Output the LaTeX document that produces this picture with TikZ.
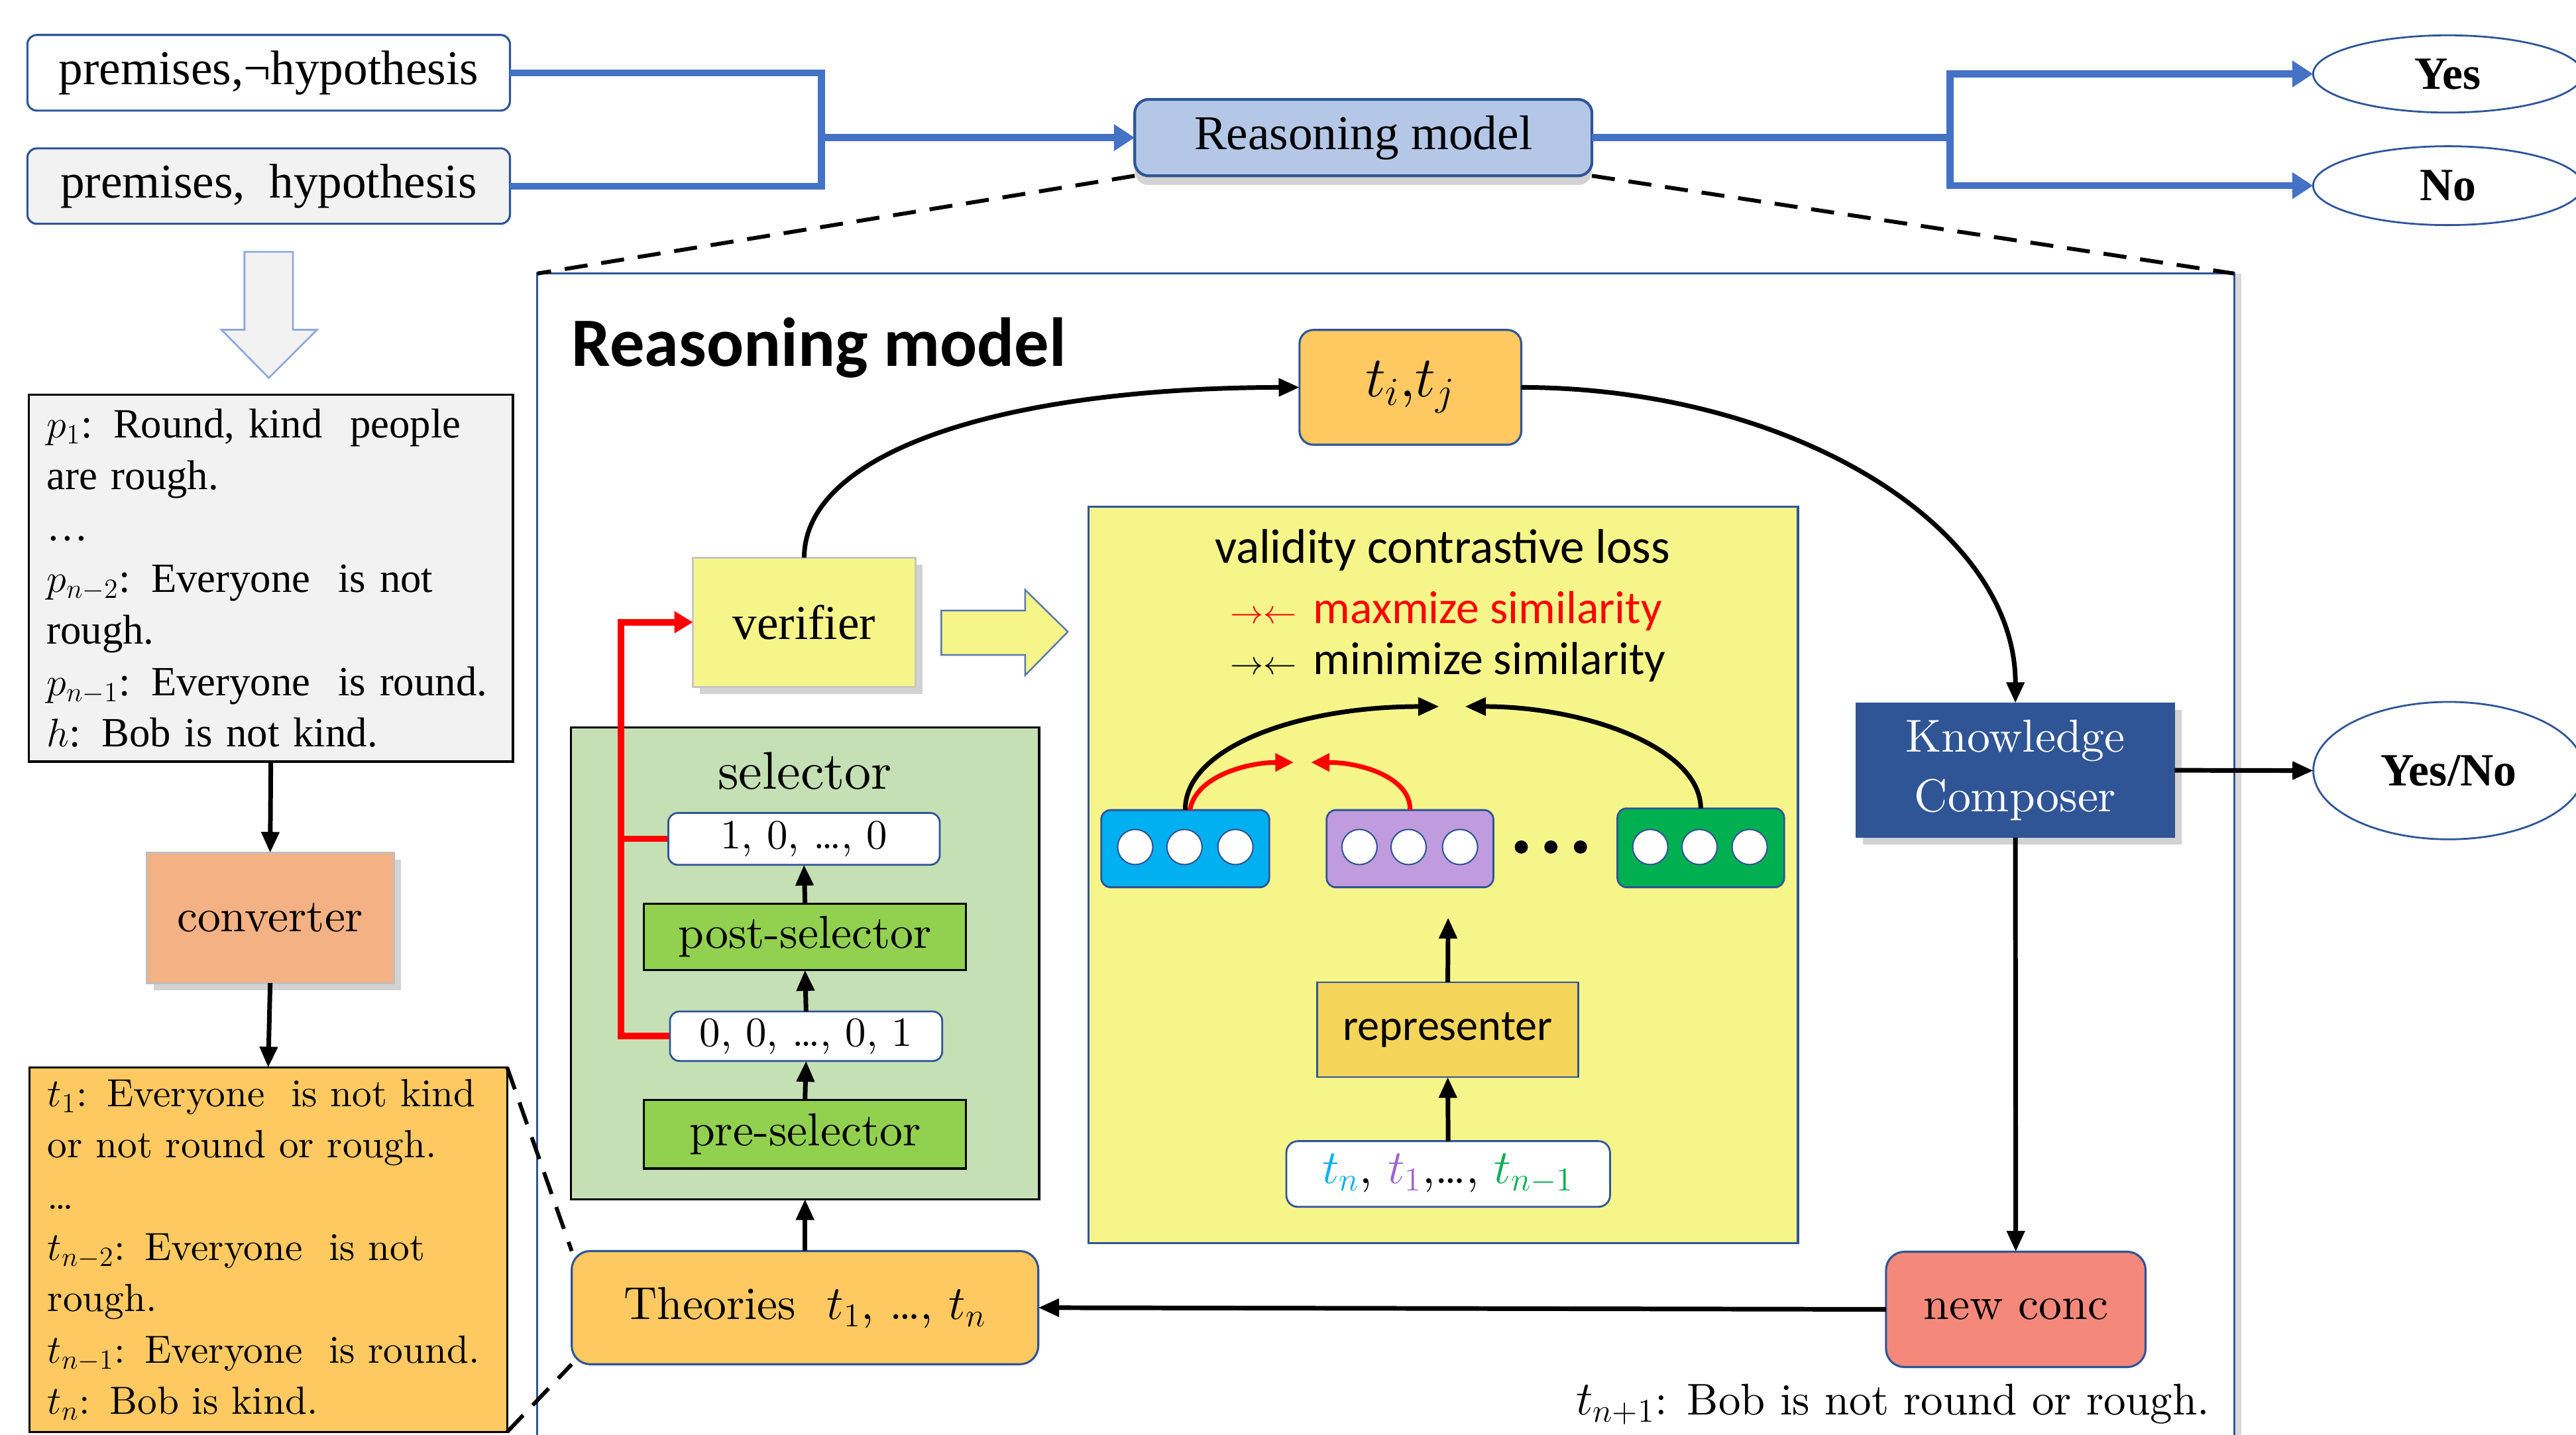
\documentclass[tikz,border=0pt]{standalone}
\usepackage{fontspec}
\setmainfont{lmroman10-regular.otf}[BoldFont=lmroman10-bold.otf, ItalicFont=lmroman10-italic.otf]
\newfontfamily\tnr{Liberation Serif}
\newfontfamily\calf{Carlito}
\usetikzlibrary{arrows.meta,shadows,shapes.geometric}
\definecolor{dblue}{HTML}{2F5597}
\definecolor{mblue}{HTML}{4472C4}
\definecolor{orng}{HTML}{FFC961}
\definecolor{salm}{HTML}{F4897B}
\definecolor{convc}{HTML}{F4B183}
\definecolor{yel}{HTML}{F6F58A}
\definecolor{goldc}{HTML}{F5D45A}
\definecolor{lgreen}{HTML}{C5E0B4}
\definecolor{mgreen}{HTML}{92D050}
\definecolor{lgray}{HTML}{F2F2F2}
\definecolor{rmblue}{HTML}{B4C7E7}
\definecolor{vblue}{HTML}{00B0F0}
\definecolor{vpurp}{HTML}{C09BDE}
\definecolor{vgreen}{HTML}{00B050}
\definecolor{tpurp}{HTML}{A064D2}
\definecolor{harrowc}{HTML}{8FAADC}
\begin{document}
\begin{tikzpicture}[x=0.025cm,y=-0.025cm,
  every node/.style={inner sep=0pt, outer sep=0pt},
  bb/.style n args={4}{at={({(#1+#3)/2},{(#2+#4)/2})}, minimum width={(#3-#1)*0.025cm}, minimum height={(#4-#2)*0.025cm}},
  rbox/.style={draw=dblue, line width=0.9pt, rounded corners=4pt},
  shad/.style={drop shadow={shadow xshift=3pt, shadow yshift=-3pt, opacity=0.35}},
  arr/.style={line width=2pt, -{Triangle[length=9pt,width=7.5pt]}},
  carr/.style={line width=2pt, -{Triangle[length=9pt,width=7.5pt]}},
  rarr/.style={line width=2pt, red, -{Triangle[length=8pt,width=7.5pt]}},
  bline/.style={draw=mblue, line width=3pt},
  btip/.style={-{Triangle[length=9pt,width=11pt]}},
  dsh/.style={line width=1.7pt, dash pattern=on 10pt off 6pt},
  redl/.style={draw=red, line width=2.8pt},
  ftnr/.style={font=\tnr\fontsize{21}{25}\selectfont},
  fcm/.style={font=\fontsize{20}{24}\selectfont}
]
\useasboundingbox (0,0) rectangle (1568,873);

% big reasoning model frame
\node[draw=dblue, line width=0.8pt, fill=white,
      drop shadow={shadow xshift=3pt, shadow yshift=0pt, opacity=0.3},
      bb={327}{166.5}{1360}{900}] (big) {};
\node[anchor=base west, font=\calf\bfseries\fontsize{30}{36}\selectfont] (title) at (348,223) {Reasoning model};

% top row
\node[rbox, fill=white, bb={16.7}{21.3}{310.4}{67.3}, ftnr] (pm1) {premises,¬hypothesis};
\node[rbox, fill=lgray, bb={16.7}{90.3}{310.4}{136.2}, ftnr] (pm2) {premises,\ \ hypothesis};
\node[rbox, rounded corners=6pt, fill=rmblue, line width=1.2pt,
      drop shadow={shadow xshift=0pt, shadow yshift=-4pt, opacity=0.35},
      bb={690.7}{60.5}{969}{107}, ftnr] (rm) {Reasoning model};
\node[ellipse, draw=dblue, line width=0.8pt, fill=white, minimum width=4.1cm, minimum height=1.175cm,
      font=\tnr\bfseries\fontsize{20}{24}\selectfont] (yes) at (1490,45) {Yes};
\node[ellipse, draw=dblue, line width=0.8pt, fill=white, minimum width=4.1cm, minimum height=1.2cm,
      font=\tnr\bfseries\fontsize{20}{24}\selectfont] (no) at (1490,113) {No};

\coordinate (jl) at (500,83.75);
\coordinate (jr) at (1187,83.75);
\draw[bline] (pm1.east) -| (jl);
\draw[bline] (pm2.east) -| (jl);
\draw[bline, btip] (jl) -- (rm.west);
\draw[bline] (rm.east) -- (jr);
\draw[bline, btip] (jr) |- (yes.west);
\draw[bline, btip] (jr) |- (no.west);

\draw[dsh] (rm.south west) -- (big.north west);
\draw[dsh] (rm.south east) -- (big.north east);

% left column
\draw[draw=harrowc, fill=lgray, line width=0.8pt] (148.8,153.3) -- (178.3,153.3) -- (178.3,200.7) -- (193,200.7)
  -- (163.6,230) -- (134.8,200.7) -- (148.8,200.7) -- cycle;

\node[draw=black, line width=0.9pt, fill=lgray, bb={17.5}{240.2}{312.2}{463.5}, text width=6.82cm, align=left,
      font=\tnr\fontsize{18}{22.3}\selectfont] (pbox)
  {$p_1$: Round, kind\ \ people\\ are rough.\\ \ldots\\ $p_{n-2}$: Everyone\ \ is not\\ rough.\\ $p_{n-1}$: Everyone\ \ is round.\\ $h$: Bob is not kind.};

\node[draw=gray!50, line width=0.8pt, fill=convc, shad, bb={89.2}{519}{239.7}{598.3}, fcm] (conv) {converter};

\node[draw=black, line width=0.9pt, fill=orng, bb={17.8}{649.7}{308.7}{871.5}, text width=6.71cm, align=left,
      font=\fontsize{17}{22.2}\selectfont] (tbox)
  {$t_1$: Everyone\ \ is not kind\\ or not round or rough.\\ \ldots\\ $t_{n-2}$: Everyone\ \ is not\\ rough.\\ $t_{n-1}$: Everyone\ \ is round.\\ $t_n$: Bob is kind.};

\draw[arr] (pbox.south) -- (conv.north);
\draw[arr] (conv.south) -- (tbox.north);

% t_i, t_j and verifier
\node[rbox, rounded corners=6pt, fill=orng, bb={791}{200.8}{926}{270.7}, font=\fontsize{24}{28}\selectfont] (titj) {$t_i$,$t_j$};
\node[draw=gray!45, line width=0.8pt, fill=yel, shad, bb={421.8}{339.4}{557.2}{418}, ftnr] (ver) {verifier};

\draw[draw=dblue!80, fill=yel, line width=0.7pt] (573,371.6) -- (624,371.6) -- (624,359) -- (650,384.5)
  -- (624,411) -- (624,398.6) -- (573,398.6) -- cycle;

% selector
\node[draw=black, line width=0.9pt, fill=lgreen, bb={347.5}{442.6}{632.5}{729.8}] (sel) {};
\node[font=\fontsize{23}{27}\selectfont] (seltitle) at (490,469) {selector};
\node[draw=black, line width=0.9pt, fill=mgreen, bb={392}{550}{588}{590.4}, fcm] (post) {post-selector};
\node[draw=black, line width=0.9pt, fill=mgreen, bb={392}{669.3}{588}{711.2}, fcm] (pre) {pre-selector};

\coordinate (rx) at (378,378.7);
\draw[redl, -{Triangle[length=8pt,width=9pt]}] (407.8,630.6) -| (rx) -- (ver.west);
\draw[redl] (406.8,510.5) -- (378,510.5);

\node[rbox, fill=white, line width=0.8pt, bb={406.8}{494.8}{572}{526.3}, font=\fontsize{18}{22}\selectfont] (s10) {1, 0, \ldots, 0};
\node[rbox, fill=white, line width=0.8pt, bb={407.8}{615.6}{573.5}{645.7}, font=\fontsize{18}{22}\selectfont] (s00) {0, 0, \ldots, 0, 1};

\draw[arr] (post.north) -- (s10.south);
\draw[arr] (s00.north) -- (post.south);
\draw[arr] (pre.north) -- (s00.south);

% theories
\node[rbox, rounded corners=8pt, fill=orng, bb={348}{761.4}{632}{830.3}, fcm] (theo) {Theories\ \ $t_1$,\ \ldots,\ $t_n$};
\draw[arr] (theo.north) -- (sel.south);
\draw[dsh] (tbox.north east) -- (theo.north west);
\draw[dsh] (tbox.south east) -- (theo.south west);

% validity contrastive loss
\node[draw=dblue, line width=0.9pt, fill=yel, bb={662.6}{308.5}{1094.4}{756.7}] (vbox) {};
\node[font=\calf\fontsize{21}{25}\selectfont] (vcl) at (878,335) {validity contrastive loss};
\node[anchor=west, text=red, font=\calf\fontsize{20}{24}\selectfont] (maxs) at (749,372)
  {{\fontsize{15}{18}\selectfont$\rightarrow\leftarrow$}\hspace{7pt}maxmize similarity};
\node[anchor=west, font=\calf\fontsize{20}{24}\selectfont] (mins) at (749,403)
  {{\fontsize{15}{18}\selectfont$\rightarrow\leftarrow$}\hspace{7pt}minimize similarity};

\node[draw=dblue, line width=0.8pt, rounded corners=4pt, fill=vblue, bb={670.3}{493}{772.6}{540}] (vb) {};
\node[draw=dblue, line width=0.8pt, rounded corners=4pt, fill=vpurp, bb={807.5}{493}{909}{540}] (vp) {};
\node[draw=dblue, line width=0.8pt, rounded corners=4pt, fill=vgreen, bb={984.5}{492}{1086}{540}] (vg) {};
\foreach \cx in {691,721,752,827.5,857.4,888.7,1004.5,1034.5,1065}
  \draw[dblue, fill=white, line width=0.6pt] (\cx,515.5) circle[radius=10.7];
\foreach \cx in {926,944,962}
  \fill (\cx,515.5) circle[radius=4];

\coordinate (simB1) at (876,430);
\coordinate (simB2) at (891.7,430);
\coordinate (simR1) at (787.5,464);
\coordinate (simR2) at (798,464);
\draw[carr] (vb.north) .. controls (721,455) and (790,430) .. (simB1);
\draw[carr] (vg.north) .. controls (1035,455) and (965,430) .. (simB2);
\draw[rarr] ([xshift=2pt]vb.north) .. controls (728,472) and (760,464) .. (simR1);
\draw[rarr] (vp.north) .. controls (859,474) and (830,464) .. (simR2);

\node[draw=dblue, line width=0.8pt, fill=goldc, bb={801.7}{597.8}{960.8}{655.5}, font=\calf\fontsize{19}{23}\selectfont] (rep) {representer};
\node[rbox, rounded corners=5pt, fill=white, line width=0.8pt, bb={783}{694.5}{980}{734.5}, fcm] (tnb)
  {$\color{vblue}t_n$, $\color{tpurp}t_1$,\ldots, $\color{vgreen}t_{n-1}$};
\coordinate (repup) at (881.5,558.5);
\draw[arr] (rep.north) -- (repup);
\draw[arr] (tnb.north) -- (rep.south);

% knowledge composer
\node[draw=dblue, fill=dblue, shad, bb={1129.8}{427.9}{1323.7}{509.7}, text=white, align=center,
      font=\fontsize{20}{26}\selectfont] (kc) {Knowledge\\Composer};
\node[ellipse, draw=dblue, line width=0.8pt, fill=white, minimum width=4.12cm, minimum height=2.09cm,
      font=\tnr\bfseries\fontsize{20}{24}\selectfont] (yn) at (1490.5,469) {Yes/No};
\node[rbox, rounded corners=8pt, fill=salm, bb={1148}{761.8}{1306}{832}, fcm] (nc) {new conc};

\draw[carr] (ver.north) .. controls (489.8,275) and (610,236) .. (titj.west);
\draw[carr] (titj.east) .. controls (1090,236) and (1227,320) .. (kc.north);
\draw[arr] (kc.east) -- (yn.west);
\draw[arr] (kc.south) -- (nc.north);
\draw[arr] (nc.west) -- (theo.east);

\node[anchor=base east, font=\fontsize{19.2}{23}\selectfont] (tn1) at (1345,861) {$t_{n+1}$: Bob is not round or rough.};
\end{tikzpicture}
\end{document}
